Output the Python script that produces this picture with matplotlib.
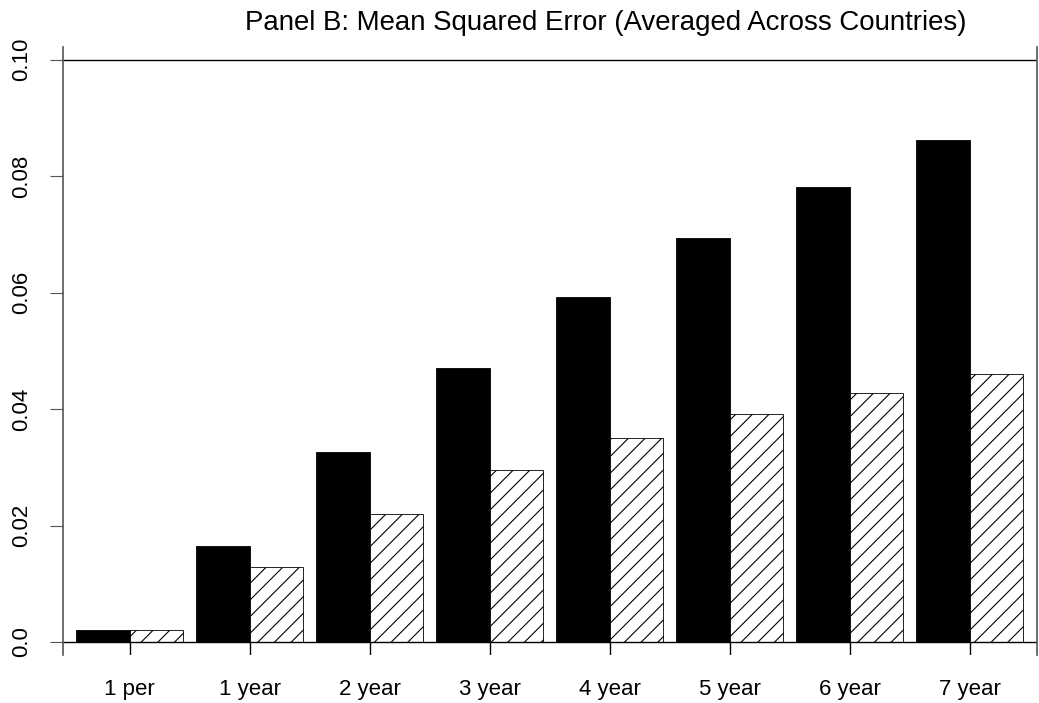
import numpy as np
import matplotlib
matplotlib.use("Agg")
import matplotlib.pyplot as plt

# ---- Data ---- #
horizons = ["1 per", "1 year", "2 year", "3 year", "4 year", "5 year", "6 year", "7 year"]
mse_black = [0.0021, 0.0165, 0.0326, 0.0471, 0.0593, 0.0694, 0.0782, 0.0863]
mse_hatched = [0.0021, 0.0129, 0.0220, 0.0296, 0.0351, 0.0392, 0.0428, 0.0460]
y_ticks = [0.0, 0.02, 0.04, 0.06, 0.08, 0.10]
y_tick_labels = ["0.0", "0.02", "0.04", "0.06", "0.08", "0.10"]

plt.rcParams["font.family"] = ["Liberation Sans", "DejaVu Sans"]
plt.rcParams["hatch.linewidth"] = 0.8

W, H = 1039, 703
fig = plt.figure(figsize=(W / 100, H / 100), dpi=100)
ax = fig.add_axes([63 / W, (H - 655) / H, (1037 - 63) / W, (655 - 47) / H])

x = np.arange(len(horizons))
bw = 0.445
ymin = -0.00223
ax.bar(x - bw, mse_black, width=bw, align="edge", color="black",
       edgecolor="black", linewidth=0.6)
ax.bar(x, mse_hatched, width=bw, align="edge", color="white",
       edgecolor="black", linewidth=0.6, hatch="//")

ax.axhline(0.0, color="black", linewidth=1.0)
ax.axhline(0.10, color="black", linewidth=1.0)
# x ticks hang down from the zero line
ax.vlines(x, ymin, 0.0, color="black", linewidth=1.0)

ax.set_xlim(-0.555, 7.56)
ax.set_ylim(ymin, 0.1022)

for s in ["top", "bottom"]:
    ax.spines[s].set_visible(False)
for s in ["left", "right"]:
    ax.spines[s].set_color("#555555")
    ax.spines[s].set_linewidth(1.2)

ax.set_xticks(x)
ax.set_xticklabels(horizons, fontsize=16)
ax.tick_params(axis="x", length=0, pad=17)

ax.set_yticks(y_ticks)
ax.set_yticklabels(y_tick_labels, fontsize=16, rotation=90, va="center")
ax.tick_params(axis="y", direction="out", length=9.4, width=0.8,
               color="#555555", pad=13)

fig.text(605.5 / W, 1 - 30 / H, "Panel B: Mean Squared Error (Averaged Across Countries)",
         ha="center", va="baseline", fontsize=19.9)

fig.savefig("out.png", dpi=100)
